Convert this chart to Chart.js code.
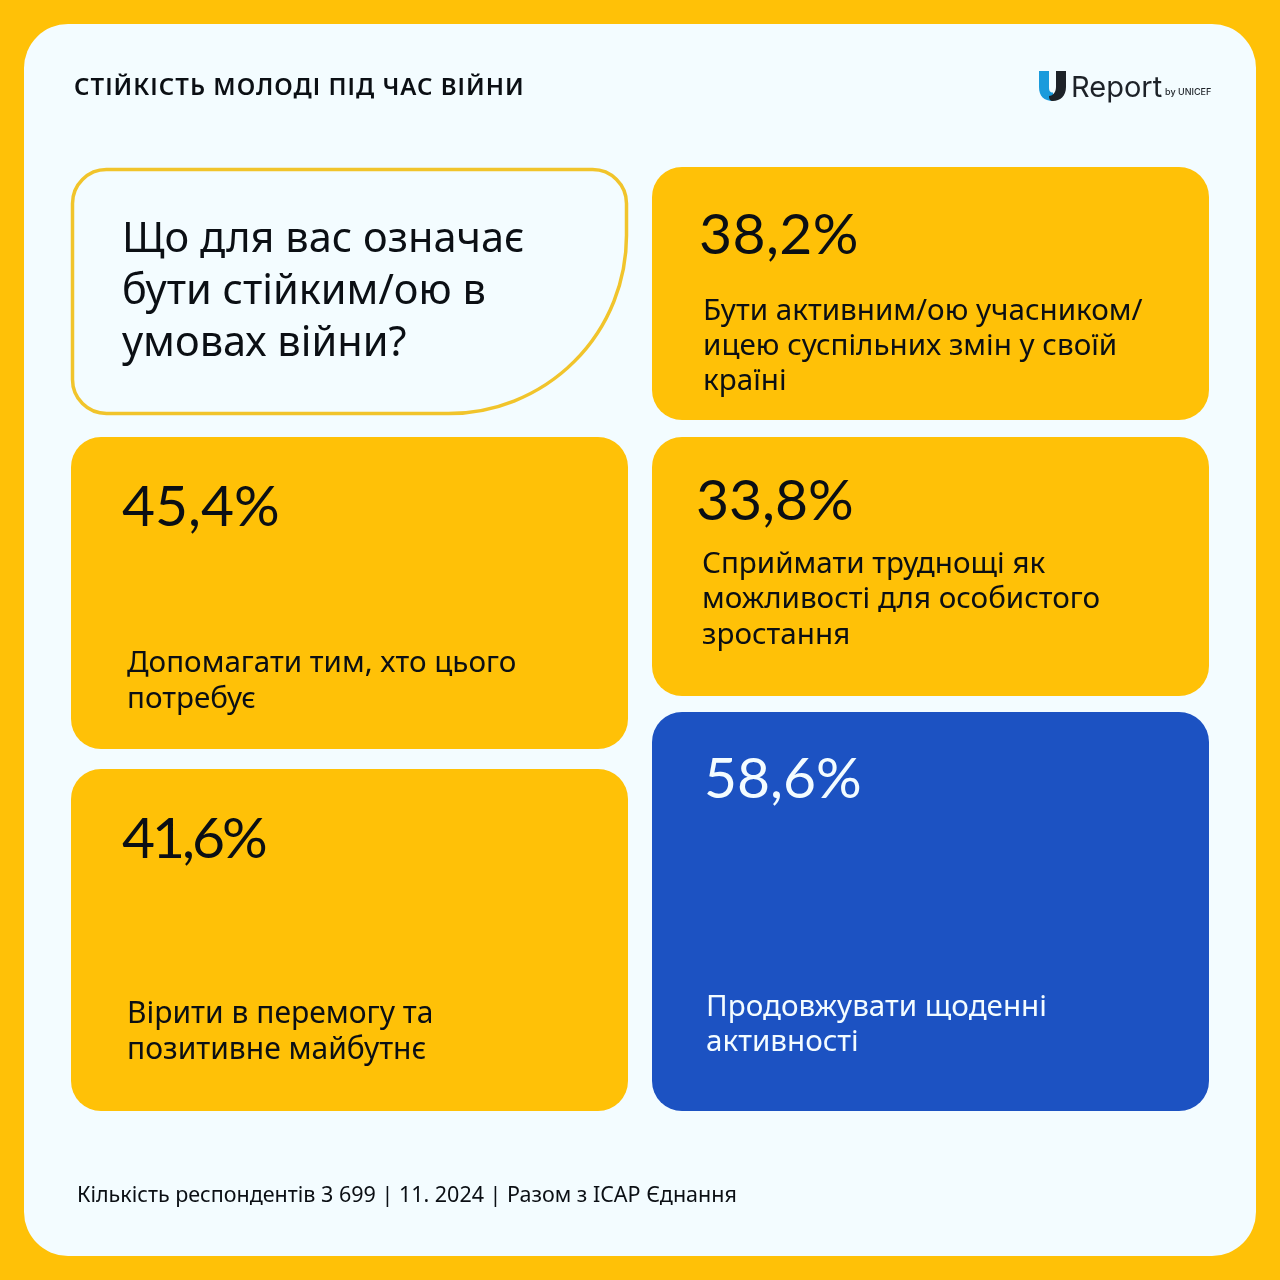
<!DOCTYPE html>
<html lang="uk"><head><meta charset="utf-8">
<style>html,body{margin:0;padding:0;background:#FFC107}canvas{display:block}</style>
<script src="https://cdn.jsdelivr.net/npm/chart.js@4"></script></head>
<body><canvas id="c" width="1280" height="1280"></canvas>
<script>
const titleText = "СТІЙКІСТЬ МОЛОДІ ПІД ЧАС ВІЙНИ";
const questionLines = ["Що для вас означає","бути стійким/ою в","умовах війни?"];
const footerText = "Кількість респондентів 3 699 | 11. 2024 | Разом з ICAP Єднання";
const categories = [
 ["Бути активним/ою учасником/","ицею суспільних змін у своїй","країні"],
 ["Допомагати тим, хто цього","потребує"],
 ["Сприймати труднощі як","можливості для особистого","зростання"],
 ["Вірити в перемогу та","позитивне майбутнє"],
 ["Продовжувати щоденні","активності"]
];
const values = [38.2,45.4,33.8,41.6,58.6];

// Tile layout (tile size does not encode the value in the source graphic)
const YEL="#FFC107", BLUE="#1C52C2", INK="#0B0F14", PAPER="#F3FCFF";
const tiles=[
 {x:652,y:167,w:557,h:253,c:YEL,ink:INK,vx:699,vy:254,ls:0.4,lx:703,ly:319.5,lh:35,fs:29.6},
 {x:71,y:437,w:557,h:312,c:YEL,ink:INK,vx:122,vy:526,ls:0,lx:127,ly:672,lh:35.5,fs:29.6},
 {x:652,y:437,w:557,h:259,c:YEL,ink:INK,vx:696,vy:520,ls:0,lx:702,ly:572.5,lh:35.5,fs:29.6},
 {x:71,y:769,w:557,h:342,c:YEL,ink:INK,vx:122,vy:858,ls:-3,lx:127,ly:1023,lh:35.5,fs:30},
 {x:652,y:712,w:557,h:399,c:BLUE,ink:"#F3FCFF",vx:704,vy:798,ls:0,lx:706,ly:1015.5,lh:35.5,fs:29.6}
];
const SANS='"Noto Sans", sans-serif', NUM='Lato, sans-serif';
const fmt=v=>v.toFixed(1).replace('.',',')+'%';

const infographic={id:'infographic',
 afterDatasetsDraw(chart){
  const ctx=chart.ctx; ctx.save();
  ctx.textBaseline='alphabetic'; ctx.textAlign='left';
  // paper
  ctx.fillStyle=PAPER; ctx.beginPath(); ctx.roundRect(24,24,1232,1232,44); ctx.fill();
  // header
  ctx.fillStyle=INK; ctx.font='600 24px '+SANS; ctx.letterSpacing='1.03px';
  ctx.fillText(titleText,74,95); ctx.letterSpacing='0px';
  // logo
  ctx.fillStyle='#1A9BDC'; ctx.beginPath();
  ctx.moveTo(1039,71);ctx.lineTo(1049,71);ctx.lineTo(1049,87);
  ctx.bezierCurveTo(1049,91,1050,92.5,1053,92.5);ctx.lineTo(1053,101);
  ctx.bezierCurveTo(1044,101,1039,96,1039,87);ctx.closePath();ctx.fill();
  ctx.fillStyle='#1D2228'; ctx.beginPath();
  ctx.moveTo(1056,71);ctx.lineTo(1066,71);ctx.lineTo(1066,87);
  ctx.bezierCurveTo(1066,96,1060,101,1053,101);
  ctx.bezierCurveTo(1050,101,1049,99,1049,96);
  ctx.bezierCurveTo(1052,96,1056,93,1056,87);ctx.closePath();ctx.fill();
  ctx.fillStyle='#1D2228'; ctx.font='400 29px Inter, sans-serif'; ctx.fillText('Report',1071,97);
  ctx.font='500 9px Inter, sans-serif'; ctx.fillText('by UNICEF',1165,95);
  // question outline
  ctx.strokeStyle='#F1C42B'; ctx.lineWidth=3.5;
  ctx.beginPath(); ctx.roundRect(72.5,169.5,554,244,[34,34,178,34]); ctx.stroke();
  ctx.fillStyle=INK; ctx.font='400 41.5px '+SANS;
  questionLines.forEach((t,i)=>ctx.fillText(t,122,252+i*52));
  // tiles
  const ds=chart.data.datasets[0].data;
  tiles.forEach((t,i)=>{
   ctx.fillStyle=t.c; ctx.beginPath(); ctx.roundRect(t.x,t.y,t.w,t.h,30); ctx.fill();
   ctx.fillStyle=t.ink;
   ctx.font='400 57px '+NUM; ctx.letterSpacing=t.ls+'px'; ctx.fillText(fmt(ds[i]),t.vx,t.vy); ctx.letterSpacing='0px';
   ctx.font='400 '+t.fs+'px '+SANS;
   chart.data.labels[i].forEach((l,j)=>ctx.fillText(l,t.lx,t.ly+j*t.lh));
  });
  // footer
  ctx.fillStyle=INK; ctx.font='400 21.5px '+SANS; ctx.fillText(footerText,77,1202);
  ctx.restore();
 }};

new Chart(document.getElementById('c'),{
 type:'bar',
 data:{labels:categories,datasets:[{label:'%',data:values,backgroundColor:'rgba(0,0,0,0)',borderWidth:0}]},
 options:{responsive:false,animation:false,devicePixelRatio:1,
  layout:{padding:0},
  plugins:{legend:{display:false},title:{display:false},tooltip:{enabled:false}},
  scales:{x:{display:false},y:{display:false,min:0,max:100}}},
 plugins:[infographic]
});
</script></body></html>
